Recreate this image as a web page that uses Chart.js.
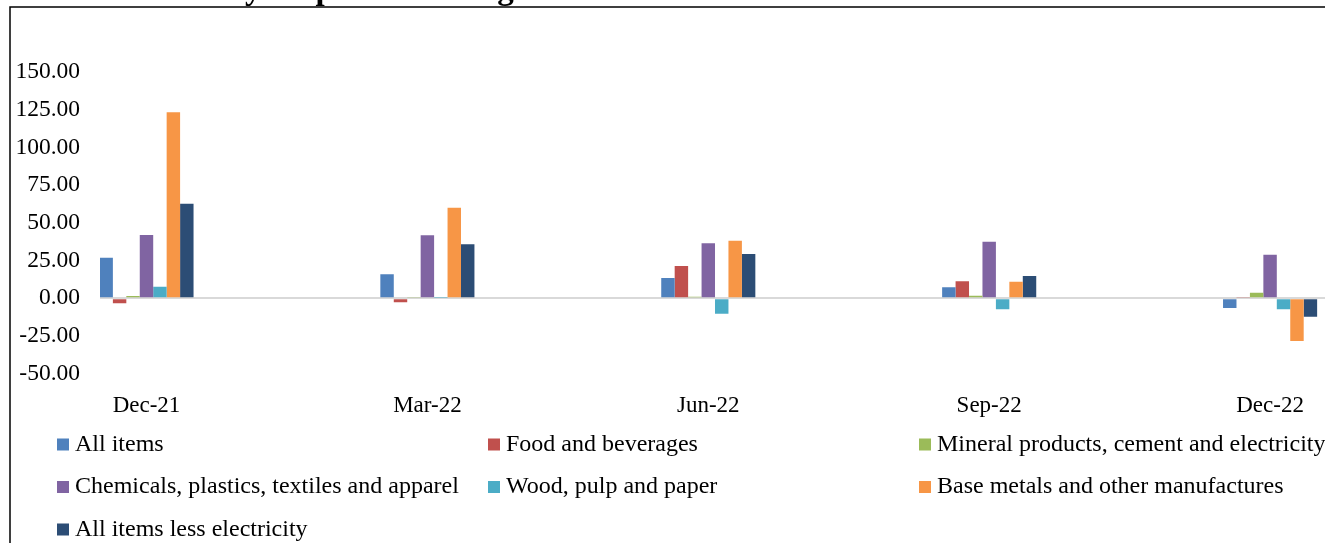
<!DOCTYPE html>
<html>
<head>
<meta charset="utf-8">
<script src="https://cdn.jsdelivr.net/npm/chart.js@4/dist/chart.umd.min.js"></script>
<style>
  html, body { margin: 0; padding: 0; background: #ffffff; }
  #wrap { position: relative; width: 1325px; height: 543px; overflow: hidden; }
  canvas { display: block; }
</style>
</head>
<body>
<div id="wrap"><canvas id="c" width="1325" height="543"></canvas></div>
<script>
// ---- data ----
const chartTitle = "Chart 1: Year-on-year percent change";
const categories = ["Dec-21", "Mar-22", "Jun-22", "Sep-22", "Dec-22"];
const seriesNames = [
  "All items",
  "Food and beverages",
  "Mineral products, cement and electricity",
  "Chemicals, plastics, textiles and apparel",
  "Wood, pulp and paper",
  "Base metals and other manufactures",
  "All items less electricity"
];
const allItems      = [26.9, 15.9, 13.4, 7.3, -6.4];
const foodBev       = [-3.3, -2.6, 21.4, 11.3, 0.8];
const mineral       = [1.5, 0.9, 1.0, 1.7, 3.7];
const chemicals     = [41.9, 41.7, 36.4, 37.5, 28.9];
const woodPulp      = [7.7, 0.3, -10.2, -7.3, -7.3];
const baseMetals    = [123.4, 60.0, 38.2, 11.0, -28.3];
const allLessElec   = [62.7, 35.8, 29.3, 14.8, -12.2];
const yTicks = [-50, -25, 0, 25, 50, 75, 100, 125, 150];

const seriesValues = [allItems, foodBev, mineral, chemicals, woodPulp, baseMetals, allLessElec];
const seriesColors = ["#4F81BD", "#C0504D", "#9BBB59", "#8064A2", "#4BACC6", "#F79646", "#2C4D75"];

const datasets = seriesValues.map((vals, s) => ({
  label: seriesNames[s],
  data: vals.map((v, i) => ({ x: i, y: v })),
  backgroundColor: seriesColors[s],
  borderWidth: 0,
  barPercentage: 1.0,
  categoryPercentage: 0.335
}));

const SERIF = "'Liberation Serif', 'Times New Roman', serif";

const decorPlugin = {
  id: "decor",
  beforeDraw(chart) {
    const ctx = chart.ctx;
    ctx.save();
    ctx.strokeStyle = "#000000";
    ctx.lineWidth = 1.5;
    ctx.beginPath();
    ctx.moveTo(1325, 7);
    ctx.lineTo(10, 7);
    ctx.lineTo(10, 543);
    ctx.stroke();
    ctx.fillStyle = "#000000";
    ctx.font = "bold 33px " + SERIF;
    ctx.textBaseline = "alphabetic";
    ctx.textAlign = "left";
    ctx.fillText(chartTitle, -5, -1);
    ctx.restore();
  },
  afterDraw(chart) {
    const ctx = chart.ctx;
    ctx.save();
    ctx.font = "24px " + SERIF;
    ctx.textBaseline = "middle";
    ctx.textAlign = "left";
    chart.data.datasets.forEach((ds, i) => {
      const col = i % 3, row = Math.floor(i / 3);
      const bx = 57 + col * 431;
      const cy = 444.5 + row * 42.5;
      ctx.fillStyle = ds.backgroundColor;
      ctx.fillRect(bx, cy - 6, 12, 12);
      ctx.fillStyle = "#000000";
      ctx.fillText(ds.label, bx + 18, cy);
    });
    ctx.restore();
  }
};

new Chart(document.getElementById("c"), {
  type: "bar",
  data: { datasets },
  options: {
    responsive: false,
    animation: false,
    devicePixelRatio: 1,
    layout: { padding: { top: 72, left: 10, right: 0, bottom: 124.3 } },
    plugins: {
      legend: { display: false },
      title: { display: false },
      tooltip: { enabled: false }
    },
    scales: {
      x: {
        type: "linear",
        offset: false,
        min: -0.1655,
        max: 4.1955,
        grid: { display: false, drawTicks: false, tickLength: 0 },
        border: { display: false },
        afterBuildTicks: (scale) => { scale.ticks = categories.map((c, i) => ({ value: i })); },
        afterFit: (scale) => { scale.height = 45; },
        ticks: {
          autoSkip: false,
          maxRotation: 0,
          padding: 18,
          color: "#000000",
          font: { family: SERIF, size: 23 },
          callback: (v) => categories[v]
        }
      },
      y: {
        min: -50,
        max: 150,
        afterBuildTicks: (scale) => { scale.ticks = yTicks.map(v => ({ value: v })); },
        afterFit: (scale) => { scale.width = 90; },
        grid: {
          drawTicks: false,
          tickLength: 0,
          lineWidth: 2,
          color: (ctx) => (ctx.tick && ctx.tick.value === 0) ? "#d9d9d9" : "rgba(0,0,0,0)"
        },
        border: { display: false },
        ticks: {
          padding: 20,
          color: "#000000",
          font: { family: SERIF, size: 23.5 },
          callback: (v) => Number(v).toFixed(2)
        }
      }
    }
  },
  plugins: [decorPlugin]
});
</script>
</body>
</html>
